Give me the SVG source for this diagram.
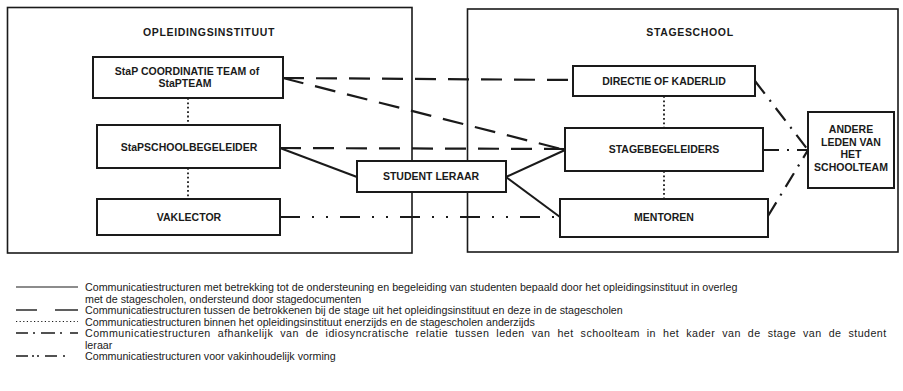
<svg xmlns="http://www.w3.org/2000/svg" width="903" height="391" viewBox="0 0 903 391">
<style>
  .frame { fill: none; stroke: #1a1a1a; stroke-width: 1.6; }
  .box { fill: #fff; stroke: #1a1a1a; stroke-width: 2; }
  .lbl { font-family: "Liberation Sans", Arial, sans-serif; font-weight: bold; font-size: 10.5px; fill: #1a1a1a; text-anchor: middle; }
  .title { font-family: "Liberation Sans", Arial, sans-serif; font-weight: bold; font-size: 10.5px; letter-spacing: 0.65px; fill: #1a1a1a; text-anchor: middle; }
  .leg { font-family: "Liberation Sans", Arial, sans-serif; font-size: 10.7px; fill: #1a1a1a; }
  .wide { letter-spacing: 0.45px; word-spacing: 3.6px; }
  .solid { fill: none; stroke: #1a1a1a; stroke-width: 2; }
  .dash { fill: none; stroke: #1a1a1a; stroke-width: 2.2; stroke-dasharray: 21 12; }
  .dot { fill: none; stroke: #1a1a1a; stroke-width: 1.8; stroke-dasharray: 1.8 2.6; }
  .dashdot { fill: none; stroke: #1a1a1a; stroke-width: 2.2; stroke-dasharray: 16 8 2 8; }
  .dashdotdot { fill: none; stroke: #1a1a1a; stroke-width: 2.2; stroke-dasharray: 20 12 2 12 2 12; }
  .lsolid { stroke: #1a1a1a; stroke-width: 1.2; }
  .ldash { stroke: #1a1a1a; stroke-width: 1.4; }
  .ldot { stroke: #1a1a1a; stroke-width: 1.2; stroke-dasharray: 1.2 2.4; }
</style>

<g id="frames">
  <rect class="frame" x="7.5" y="7.5" width="404.5" height="245.5"/>
  <rect class="frame" x="467.5" y="9" width="430.5" height="243"/>
  <text class="title" x="209" y="36">OPLEIDINGSINSTITUUT</text>
  <text class="title" x="690" y="36">STAGESCHOOL</text>
</g>

<g id="connectors">
  <path class="dash" d="M283 78 L573 80"/>
  <path class="dash" d="M283 78 L565 150"/>
  <path class="dash" d="M280 148 L565 149"/>
  <path class="solid" d="M280 148 L357 177"/>
  <path class="solid" d="M506 177 L565 150"/>
  <path class="solid" d="M506 177 L560 217"/>
  <path class="dashdotdot" d="M280 217 L560 217"/>
  <path class="dot" d="M188 98 L188 125"/>
  <path class="dot" d="M188 168 L188 199"/>
  <path class="dot" d="M664 96 L664 128"/>
  <path class="dot" d="M664 171 L664 199"/>
  <path class="dashdot" d="M755 81 L808 150"/>
  <path class="dashdot" d="M763 150 L808 150"/>
  <path class="dashdot" d="M768 216 L808 150"/>
</g>

<g id="n-coord">
  <rect class="box" x="93" y="57" width="190" height="41"/>
  <text class="lbl" x="187" y="75">StaP COORDINATIE TEAM of</text>
  <text class="lbl" x="185" y="87">StaPTEAM</text>
</g>
<g id="n-schoolbeg">
  <rect class="box" x="97" y="125" width="183" height="43"/>
  <text class="lbl" x="189" y="151">StaPSCHOOLBEGELEIDER</text>
</g>
<g id="n-vaklector">
  <rect class="box" x="97" y="199" width="183" height="36"/>
  <text class="lbl" x="189" y="221">VAKLECTOR</text>
</g>
<g id="n-student">
  <rect class="box" x="357" y="161" width="149" height="31"/>
  <text class="lbl" x="431" y="180">STUDENT LERAAR</text>
</g>
<g id="n-directie">
  <rect class="box" x="573" y="66" width="182" height="30"/>
  <text class="lbl" x="664" y="85">DIRECTIE OF KADERLID</text>
</g>
<g id="n-stagebeg">
  <rect class="box" x="565" y="128" width="198" height="43"/>
  <text class="lbl" x="664" y="153">STAGEBEGELEIDERS</text>
</g>
<g id="n-mentoren">
  <rect class="box" x="560" y="199" width="208" height="38"/>
  <text class="lbl" x="664" y="221">MENTOREN</text>
</g>
<g id="n-andere">
  <rect class="box" x="808" y="112" width="86" height="76"/>
  <text class="lbl" x="851" y="133">ANDERE</text>
  <text class="lbl" x="851" y="146">LEDEN VAN</text>
  <text class="lbl" x="851" y="158">HET</text>
  <text class="lbl" x="851" y="171">SCHOOLTEAM</text>
</g>

<g id="legend">
  <line class="lsolid" x1="16" y1="287" x2="78" y2="287"/>
  <line class="ldash" x1="16" y1="310" x2="37" y2="310"/>
  <line class="ldash" x1="55" y1="310" x2="78" y2="310"/>
  <line class="ldot" x1="16" y1="321.5" x2="78" y2="321.5"/>
  <path class="ldash" d="M16 333 H28 M33 333 H35 M41 333 H55 M60 333 H62 M70 333 H78"/>
  <path class="ldash" d="M16 356 H28 M32 356 H34 M37 356 H39 M45 356 H57 M63 356 H65"/>
  <text class="leg" x="85" y="291">Communicatiestructuren met betrekking tot de ondersteuning en begeleiding van studenten bepaald door het opleidingsinstituut in overleg</text>
  <text class="leg" x="85" y="302.5">met de stagescholen, ondersteund door stagedocumenten</text>
  <text class="leg" x="85" y="314">Communicatiestructuren tussen de betrokkenen bij de stage uit het opleidingsinstituut en deze in de stagescholen</text>
  <text class="leg" x="85" y="325.5">Communicatiestructuren binnen het opleidingsinstituut enerzijds en de stagescholen anderzijds</text>
  <text class="leg wide" x="85" y="337">Communicatiestructuren afhankelijk van de idiosyncratische relatie tussen leden van het schoolteam in het kader van de stage van de student</text>
  <text class="leg" x="85" y="348.5">leraar</text>
  <text class="leg" x="85" y="360">Communicatiestructuren voor vakinhoudelijk vorming</text>
</g>
</svg>
